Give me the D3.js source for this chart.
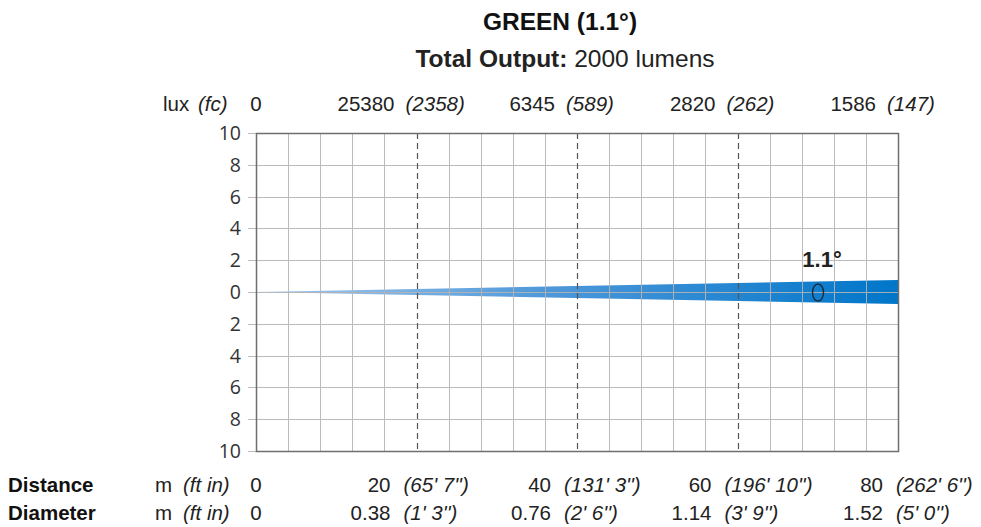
<!DOCTYPE html>
<html><head><meta charset="utf-8">
<script src="https://cdn.jsdelivr.net/npm/d3@7"></script>
<style>body{margin:0;background:#fff;} svg{display:block;}</style>
</head><body>
<svg id="c" width="981" height="527"></svg>
<script>
const title = "GREEN (1.1°)";
const beamLabel = "1.1°";
const totalOutput = "2000 lumens";
const distances = [0, 20, 40, 60, 80];
const distanceFt = ["", "(65' 7'')", "(131' 3'')", "(196' 10'')", "(262' 6'')"];
const luxValues = ["0", "25380", "6345", "2820", "1586"];
const fcValues = ["", "(2358)", "(589)", "(262)", "(147)"];
const diameters = ["0", "0.38", "0.76", "1.14", "1.52"];
const diameterFt = ["", "(1' 3'')", "(2' 6'')", "(3' 9'')", "(5' 0'')"];
const beamEnd = { distance: 80, diameter: 1.52 };
const yTicks = [10, 8, 6, 4, 2, 0, -2, -4, -6, -8, -10];
const minorX = d3.range(0, 81, 4);

const svg = d3.select("#c");
const L = 256, R = 898, T = 133, B = 451;
const x = d3.scaleLinear().domain([0, 80]).range([L, R]);
const y = d3.scaleLinear().domain([10, -10]).range([T, B]);
const arial = "'Liberation Sans', Arial, sans-serif";

// title
svg.append("text").attr("x", 560).attr("y", 30).attr("text-anchor", "middle")
  .attr("font-family", arial).attr("font-weight", "bold").attr("font-size", 24.5).attr("fill", "#111").text(title);
const sub = svg.append("text").attr("x", 565).attr("y", 67).attr("text-anchor", "middle")
  .attr("font-family", arial).attr("font-size", 24.5).attr("fill", "#222");
sub.append("tspan").attr("font-weight", "bold").text("Total Output: ");
sub.append("tspan").text(totalOutput);

// gradient
const defs = svg.append("defs");
const g = defs.append("linearGradient").attr("id", "beam").attr("gradientUnits", "userSpaceOnUse")
  .attr("x1", x(0)).attr("x2", x(80)).attr("y1", 0).attr("y2", 0);
g.append("stop").attr("offset", "0").attr("stop-color", "#a6c9ec");
g.append("stop").attr("offset", "0.45").attr("stop-color", "#4e98da");
g.append("stop").attr("offset", "1").attr("stop-color", "#0076c9");

// beam
const r = beamEnd.diameter / 2;
svg.append("path")
  .attr("d", d3.line().x(d => x(d[0])).y(d => y(d[1]))([[0, 0], [beamEnd.distance, r], [beamEnd.distance, -r]]) + "Z")
  .attr("fill", "url(#beam)");

// grid
const grid = svg.append("g").attr("stroke", "#b4b4b4").attr("stroke-width", 1).attr("opacity", 0.9);
grid.selectAll("line.v").data(minorX.filter(d => d % 20 !== 0)).join("line")
  .attr("x1", d => Math.round(x(d)) + 0.5).attr("x2", d => Math.round(x(d)) + 0.5).attr("y1", T).attr("y2", B);
grid.selectAll("line.h").data(yTicks).join("line")
  .attr("y1", d => Math.round(y(d)) + 0.5).attr("y2", d => Math.round(y(d)) + 0.5).attr("x1", L - 8).attr("x2", R);

// dashed
svg.append("g").selectAll("line").data(distances.filter(d => d > 0 && d < 80)).join("line")
  .attr("x1", d => Math.round(x(d)) + 0.5).attr("x2", d => Math.round(x(d)) + 0.5).attr("y1", T).attr("y2", B)
  .attr("stroke", "#555").attr("stroke-width", 1.2).attr("stroke-dasharray", "6,4");

// frame
svg.append("rect").attr("x", L + 0.5).attr("y", T + 0.5).attr("width", R - L).attr("height", B - T)
  .attr("fill", "none").attr("stroke", "#6e6e6e").attr("stroke-width", 1.5);

// y labels
svg.append("g").selectAll("text").data(yTicks).join("text")
  .attr("x", 241).attr("y", d => y(d)).attr("dy", "0.36em").attr("text-anchor", "end")
  .attr("font-family", "'Open Sans', sans-serif").attr("font-size", 19.5).attr("fill", "#333")
  .text(d => Math.abs(d));

// beam label
svg.append("text").attr("x", 822).attr("y", 267).attr("text-anchor", "middle")
  .attr("font-family", arial).attr("font-weight", "bold").attr("font-size", 22).attr("fill", "#222").text(beamLabel);
svg.append("ellipse").attr("cx", 818).attr("cy", 292.5).attr("rx", 5.5).attr("ry", 8.5)
  .attr("fill", "none").attr("stroke", "#1a2a3a").attr("stroke-width", 1.4);

// row label helper
function row(yb, nums, parens, leftLabel, unit, numOff, parOff, lastShift) {
  const gg = svg.append("g").attr("font-family", arial).attr("font-size", 20.5).attr("fill", "#222");
  if (leftLabel) gg.append("text").attr("x", 8).attr("y", yb).attr("font-weight", "bold").attr("fill", "#111").text(leftLabel);
  gg.append("text").attr("x", unit.x).attr("y", yb).text(unit.a);
  gg.append("text").attr("x", unit.x2).attr("y", yb).attr("font-style", "italic").text(unit.b);
  distances.forEach((d, i) => {
    const gx = x(d) + (i === distances.length - 1 ? lastShift : 0);
    if (i === 0) {
      gg.append("text").attr("x", gx).attr("y", yb).attr("text-anchor", "middle").text(nums[i]);
    } else {
      gg.append("text").attr("x", gx + numOff).attr("y", yb).attr("text-anchor", "end").text(nums[i]);
      gg.append("text").attr("x", gx + parOff).attr("y", yb).attr("font-style", "italic").text(parens[i]);
    }
  });
}
row(111, luxValues, fcValues, null, { x: 163, x2: 198, a: "lux", b: "(fc)" }, -22, -11, 0);
row(492, distances.map(String), distanceFt, "Distance", { x: 155, x2: 183, a: "m", b: "(ft in)" }, -26, -13, 11);
row(520, diameters, diameterFt, "Diameter", { x: 155, x2: 183, a: "m", b: "(ft in)" }, -26, -13, 11);
</script>
</body></html>
